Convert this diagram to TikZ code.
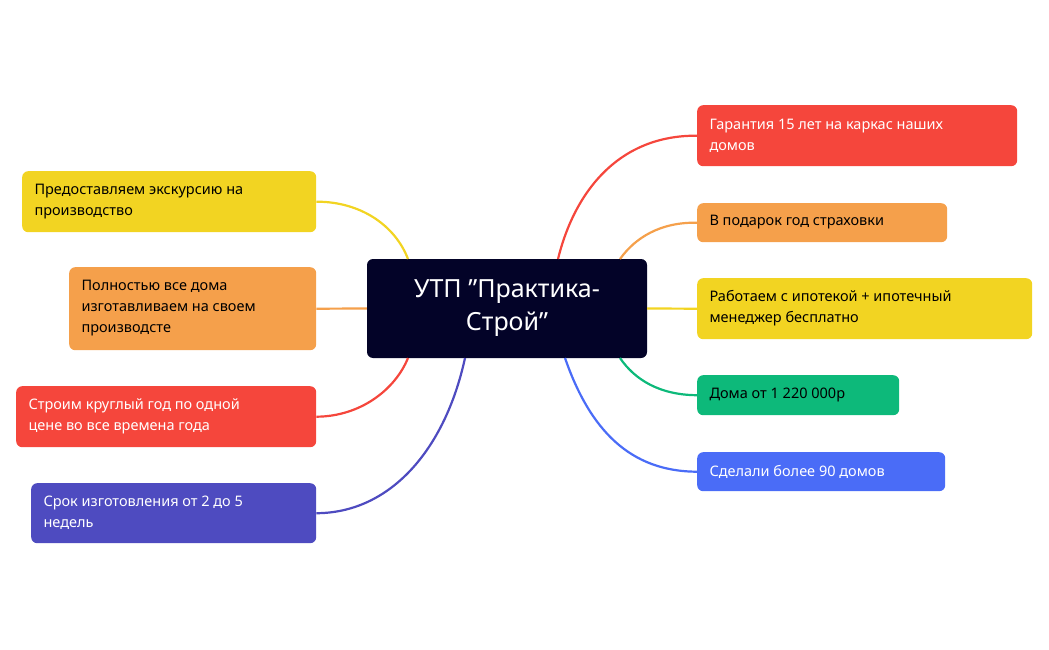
\documentclass[tikz,border=0pt]{standalone}
\usepackage{fontspec}
\setmainfont{Noto Sans}
\begin{document}
\begin{tikzpicture}[x=1pt,y=-1pt,
 box/.style={rounded corners=6pt,anchor=north west,inner xsep=18pt,inner ysep=0pt,align=left,font=\fontsize{14.5}{21}\selectfont},
 lnk/.style={line width=2.2pt}]
\definecolor{cred}{HTML}{F5463C}\definecolor{corg}{HTML}{F5A04B}
\definecolor{cyel}{HTML}{F2D422}\definecolor{cgrn}{HTML}{0DB97A}
\definecolor{cblu}{HTML}{4A6CF7}\definecolor{cpur}{HTML}{4E4BC0}
\definecolor{cnav}{HTML}{030328}
\useasboundingbox (0,0) rectangle (1049,650);
\newcommand\bx[7]{\node[box,fill=#1,text=#2,minimum width=#5-#3,text width=#5-#3-36,minimum height=#6-#4] (#7) at (#3,#4) {\strut};}
% central
\node[fill=cnav,rounded corners=6pt,minimum width=280,minimum height=99,text=white,align=center,font=\fontsize{25}{33}\selectfont] (c) at (507,308.5) {УТП "Практика-\\Строй"};
% right
\node[box,fill=cred,text=white,minimum width=320,text width=284,minimum height=61] (r1) at (697,105) {};
\node[align=left,anchor=west,text=white,font=\fontsize{14.5}{21}\selectfont] at (706,135.5) {Гарантия 15 лет на каркас наших\\домов};
\node[box,fill=corg,minimum width=250,minimum height=39] (r2) at (697,203) {};
\node[anchor=west,font=\fontsize{14.5}{21}\selectfont] at (706,222.5) {В подарок год страховки};
\node[box,fill=cyel,minimum width=335,minimum height=61] (r3) at (697,278) {};
\node[align=left,anchor=west,font=\fontsize{14.5}{21}\selectfont] at (706,308.5) {Работаем с ипотекой + ипотечный\\менеджер бесплатно};
\node[box,fill=cgrn,minimum width=202,minimum height=40] (r4) at (697,375) {};
\node[anchor=west,font=\fontsize{14.5}{21}\selectfont] at (706,395) {Дома от 1 220 000р};
\node[box,fill=cblu,minimum width=248,minimum height=39] (r5) at (697,452) {};
\node[anchor=west,text=white,font=\fontsize{14.5}{21}\selectfont] at (706,471.5) {Сделали более 90 домов};
% left
\node[box,fill=cyel,minimum width=294,minimum height=61] (l1) at (22,171) {};
\node[align=left,anchor=west,font=\fontsize{14.5}{21}\selectfont] at (31,201.5) {Предоставляем экскурсию на\\производство};
\node[box,fill=corg,minimum width=247,minimum height=83] (l2) at (69,267) {};
\node[align=left,anchor=west,font=\fontsize{14.5}{21}\selectfont] at (78,308.5) {Полностью все дома\\изготавливаем на своем\\производсте};
\node[box,fill=cred,minimum width=300,minimum height=61] (l3) at (16,386) {};
\node[align=left,anchor=west,text=white,font=\fontsize{14.5}{21}\selectfont] at (25,416.5) {Строим круглый год по одной\\цене во все времена года};
\node[box,fill=cpur,minimum width=285,minimum height=60] (l4) at (31,483) {};
\node[align=left,anchor=west,text=white,font=\fontsize{14.5}{21}\selectfont] at (40,513) {Срок изготовления от 2 до 5\\недель};
% links
\begin{scope}[on background layer/.style={}]
\end{scope}
\coordinate (a1) at (558,259); \coordinate (a2) at (620,259);
\coordinate (a4) at (620,358); \coordinate (a5) at (565,358);
\coordinate (b1) at (408,259); \coordinate (b3) at (408,358); \coordinate (b4) at (465,358);
\draw[lnk,cred] (a1) .. controls (575,190) and (620,135) .. (r1.west);
\draw[lnk,corg] (a2) .. controls (635,238) and (660,222) .. (r2.west);
\draw[lnk,cyel] (c.east) -- (r3.west);
\draw[lnk,cgrn] (a4) .. controls (635,380) and (660,395) .. (r4.west);
\draw[lnk,cblu] (a5) .. controls (590,430) and (630,471.5) .. (r5.west);
\draw[lnk,cyel] (b1) .. controls (395,225) and (360,201.5) .. (l1.east);
\draw[lnk,corg] (c.west) -- (l2.east);
\draw[lnk,cred] (b3) .. controls (395,390) and (360,416.5) .. (l3.east);
\draw[lnk,cpur] (b4) .. controls (445,450) and (390,513) .. (l4.east);
\end{tikzpicture}
\end{document}
